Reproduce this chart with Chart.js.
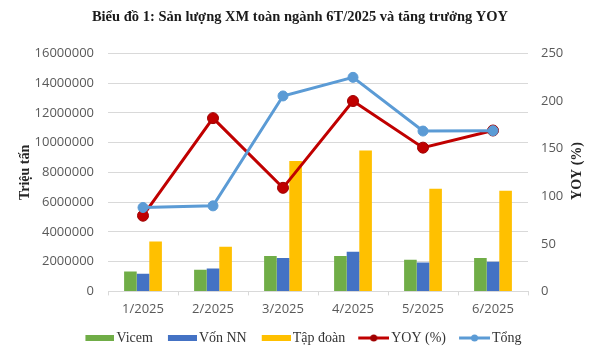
<!DOCTYPE html>
<html>
<head>
<meta charset="utf-8">
<script src="https://cdn.jsdelivr.net/npm/chart.js@4/dist/chart.umd.min.js"></script>
<style>
html,body{margin:0;padding:0;background:#fff;}
#wrap{width:600px;height:357px;position:relative;}
</style>
</head>
<body>
<div id="wrap"><canvas id="c" width="600" height="357"></canvas></div>
<script>
const categories = ['1/2025','2/2025','3/2025','4/2025','5/2025','6/2025'];
const vicem   = [1340000, 1450000, 2380000, 2380000, 2120000, 2250000];
const vonNN   = [1190000, 1540000, 2250000, 2670000, 1940000, 2000000];
const tapDoan = [3350000, 3000000, 8770000, 9470000, 6900000, 6770000];
const tong    = [5640000, 5750000, 13140000, 14390000, 10780000, 10800000];
const yoy     = [79.5, 182, 108.8, 200, 151, 169];
const leftTicks = [0, 2000000, 4000000, 6000000, 8000000, 10000000, 12000000, 14000000, 16000000];
const rightTicks = [0, 50, 100, 150, 200, 250];

const SERIF = '"Liberation Serif", "DejaVu Serif", serif';
const SANS = '"Open Sans", "Liberation Sans", sans-serif';

const PW = 31;
function rectSwatch(color){
  const c = document.createElement('canvas');
  c.width = PW + 10; c.height = 6;
  const x = c.getContext('2d');
  x.fillStyle = color; x.fillRect(c.width - 29, 0, 29, 6);
  return c;
}
function lineSwatch(color, dot){
  const c = document.createElement('canvas');
  c.width = PW + 10; c.height = 10;
  const x = c.getContext('2d');
  const s = c.width - 31;
  x.strokeStyle = color; x.lineWidth = 3;
  x.beginPath(); x.moveTo(s,5); x.lineTo(s+31,5); x.stroke();
  x.fillStyle = dot; x.beginPath(); x.arc(s+15.5,5,3.5,0,Math.PI*2); x.fill();
  return c;
}

const rightTitle = {
  id: 'rightTitle',
  afterDraw(chart){
    const ctx = chart.ctx;
    ctx.save();
    ctx.translate(577, 171);
    ctx.rotate(-Math.PI/2);
    ctx.font = 'bold 14px ' + SERIF;
    ctx.fillStyle = '#262626';
    ctx.textAlign = 'center';
    ctx.textBaseline = 'middle';
    ctx.fillText('YOY (%)', 0, 0);
    ctx.restore();
  }
};

new Chart(document.getElementById('c'), {
  type: 'bar',
  data: {
    labels: categories,
    datasets: [
      {type:'line', label:'Tổng', data:tong, yAxisID:'y', order:0,
       borderColor:'#5B9BD5', backgroundColor:'#5B9BD5', borderWidth:3,
       pointRadius:5, pointBackgroundColor:'#5B9BD5', pointBorderColor:'#5B9BD5', pointBorderWidth:1,
       tension:0, legendImg: lineSwatch('#5B9BD5','#5B9BD5')},
      {type:'line', label:'YOY (%)', data:yoy, yAxisID:'y1', order:1,
       borderColor:'#C00000', backgroundColor:'#C00000', borderWidth:3,
       pointRadius:5.5, pointBackgroundColor:'#C00000', pointBorderColor:'#9E0000', pointBorderWidth:1,
       tension:0, legendImg: lineSwatch('#C00000','#A00000')},
      {label:'Vicem', data:vicem, backgroundColor:'#70AD47', yAxisID:'y', order:2, legendImg: rectSwatch('#70AD47')},
      {label:'Vốn NN', data:vonNN, backgroundColor:'#4472C4', yAxisID:'y', order:2, legendImg: rectSwatch('#4472C4')},
      {label:'Tập đoàn', data:tapDoan, backgroundColor:'#FFC000', yAxisID:'y', order:2, legendImg: rectSwatch('#FFC000')}
    ]
  },
  options: {
    responsive: false,
    animation: false,
    datasets: { bar: { categoryPercentage: 0.54, barPercentage: 1.0 } },
    layout: { padding: { left: 0, right: 0, top: 0, bottom: 2 } },
    plugins: {
      tooltip: { enabled: false },
      title: {
        display: true,
        text: 'Biểu đồ 1: Sản lượng XM toàn ngành 6T/2025 và tăng trưởng YOY',
        font: { family: SERIF, size: 14.5, weight: 'bold' },
        color: '#1a1a1a',
        padding: { top: 9, bottom: 27 }
      },
      legend: {
        position: 'bottom',
        labels: {
          usePointStyle: true,
          pointStyleWidth: PW,
          boxHeight: 10,
          padding: 8,
          color: '#333333',
          font: { family: SERIF, size: 14 },
          generateLabels(chart){
            const order = [2,3,4,1,0];
            return order.map(i => {
              const ds = chart.data.datasets[i];
              return { text: ds.label, pointStyle: ds.legendImg, datasetIndex: i,
                       fontColor: '#333333', lineWidth: 0, hidden: false };
            });
          }
        }
      }
    },
    scales: {
      x: {
        grid: { drawOnChartArea: false, drawTicks: true, tickLength: 4, color: '#d9d9d9', offset: true },
        border: { color: '#d9d9d9' },
        ticks: { color: '#595959', font: { family: SANS, size: 13 }, padding: 6 }
      },
      y: {
        position: 'left', min: 0, max: 16000000,
        afterBuildTicks(s){ s.ticks = leftTicks.map(v => ({value: v})); },
        grid: { color: '#d9d9d9', drawTicks: false },
        border: { display: false },
        ticks: { color: '#595959', font: { family: SANS, size: 13 }, padding: 14,
                 callback: v => String(v) },
        title: { display: true, text: 'Triệu tấn', color: '#262626',
                 font: { family: SERIF, size: 14, weight: 'bold' }, padding: { top: 17, bottom: 0 } },
        afterFit(s){ s.width = 108; }
      },
      y1: {
        position: 'right', min: 0, max: 250,
        afterBuildTicks(s){ s.ticks = rightTicks.map(v => ({value: v})); },
        grid: { drawOnChartArea: false, drawTicks: false },
        border: { display: false },
        ticks: { color: '#595959', font: { family: SANS, size: 13 }, padding: 13,
                 callback: v => String(v) },
        afterFit(s){ s.width = 72; }
      }
    }
  },
  plugins: [rightTitle]
});
</script>
</body>
</html>
